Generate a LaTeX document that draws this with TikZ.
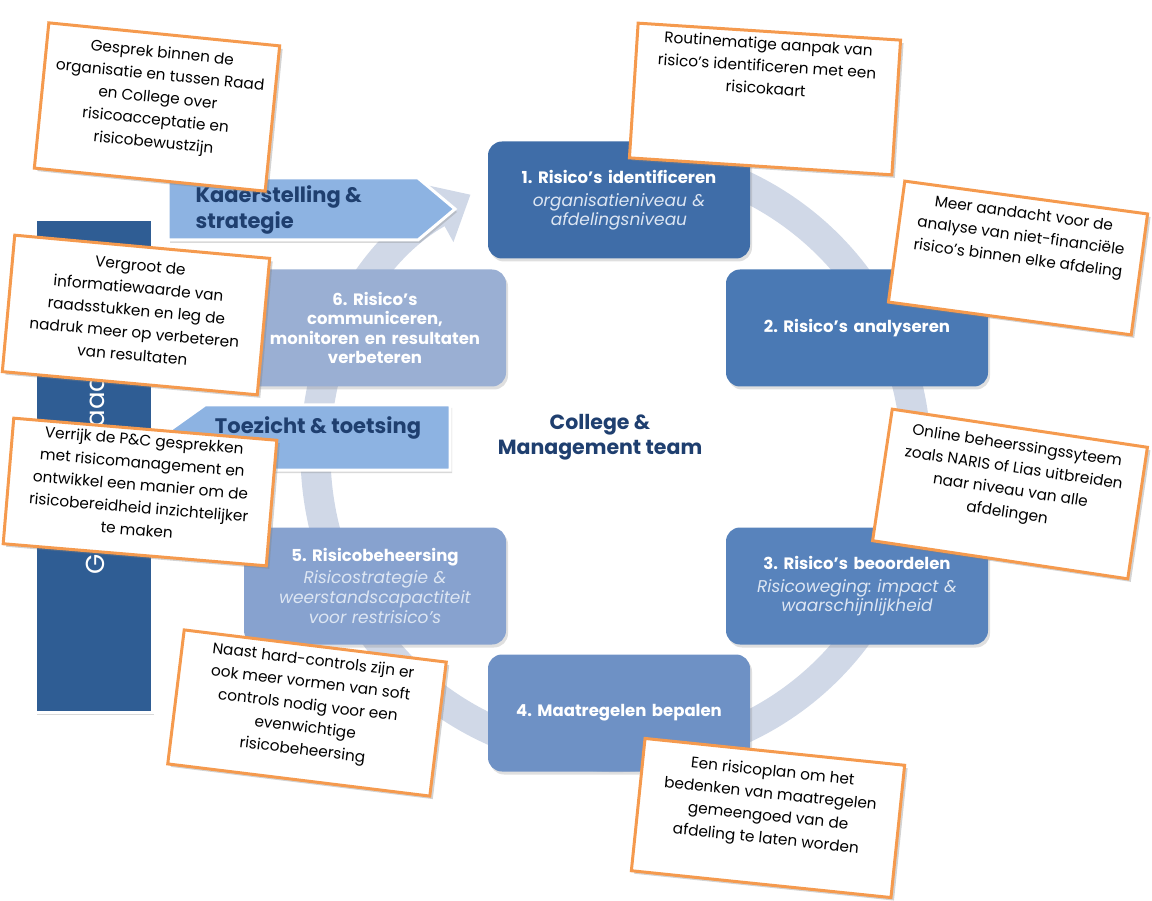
\documentclass[tikz,border=0pt]{standalone}
\usepackage{fontspec}
\setmainfont{Poppins}
\usetikzlibrary{arrows.meta,shadows}
\frenchspacing

\definecolor{ringgray}{HTML}{D0D8E7}
\definecolor{phaseA}{HTML}{3F6DA8}
\definecolor{phaseB}{HTML}{4A79B4}
\definecolor{phaseC}{HTML}{5883BC}
\definecolor{phaseD}{HTML}{6E91C5}
\definecolor{phaseE}{HTML}{87A2CF}
\definecolor{phaseF}{HTML}{9AAFD3}
\definecolor{barblue}{HTML}{2F5D94}
\definecolor{bannerblue}{HTML}{8DB3E2}
\definecolor{navy}{HTML}{1F3F6F}
\definecolor{subwhite}{HTML}{DDE6F3}
\definecolor{noteorange}{HTML}{F59A4E}

% note text: width, height, top padding, lines
\newcommand{\notetext}[4]{\parbox[c][#2][t]{#1}{\centering\vspace*{#3}#4}}
\newcommand{\subline}[1]{{\mdseries\itshape\fontsize{17}{20}\selectfont\color{subwhite}#1}}

\tikzset{
  phase/.style={rounded corners=14pt, minimum width=262pt, minimum height=117pt,
    text width=252pt, align=center, text=white, inner sep=0pt,
    font=\fontsize{16.5}{19.5}\selectfont\bfseries,
    drop shadow={opacity=0.25, shadow xshift=2pt, shadow yshift=-3pt}},
  note/.style={draw=noteorange, line width=3pt, fill=white, inner sep=0pt,
    font=\fontsize{15.3}{22.5}\selectfont,
    drop shadow={opacity=0.35, shadow xshift=3pt, shadow yshift=-3pt}},
  banner/.style={fill=bannerblue, draw=white, line width=3pt,
    drop shadow={opacity=0.3, shadow xshift=2pt, shadow yshift=-3pt}},
  bannertext/.style={text=navy, font=\fontsize{21}{26}\selectfont\bfseries, align=left}
}

\begin{document}
\begin{tikzpicture}[x=1pt,y=-1pt]
\useasboundingbox (0,0) rectangle (1152,901);

% the cycle ring
\draw[ringgray, line width=30pt, -{Triangle[width=64pt,length=38pt]}]
  (616,457) ++(-110:300) arc[start angle=-110, end angle=241, radius=300];

% the six steps
\node[phase, fill=phaseA] (identify) at (619,200)
  {1. Risico's identificeren\\[3pt]\subline{organisatieniveau \&\\afdelingsniveau}};
\node[phase, fill=phaseB] (analyse) at (857,328) {2. Risico's analyseren};
\node[phase, fill=phaseC] (assess) at (857,586)
  {3. Risico's beoordelen\\[3pt]\subline{Risicoweging: impact \&\\waarschijnlijkheid}};
\node[phase, fill=phaseD] (measures) at (619,713) {4. Maatregelen bepalen};
\node[phase, fill=phaseE] (control) at (375,586)
  {5. Risicobeheersing\\[2pt]\subline{Risicostrategie \&\\weerstandscapactiteit\\voor restrisico's}};
\node[phase, fill=phaseF] (monitor) at (375,328)
  {6. Risico's\\communiceren,\\monitoren en resultaten\\verbeteren};

\node[text=navy, font=\fontsize{20.5}{25}\selectfont\bfseries, align=center] (board)
  at (600,437) {College \&\\Management team};

% side banners and council bar
\draw[banner] (168,178) -- (418,178) -- (455,209) -- (418,240) -- (168,240) -- cycle;
\node[bannertext, anchor=west] (framework) at (192,210) {Kaderstelling \&\\strategie};
\draw[banner] (160,437) -- (205,405) -- (450,405) -- (450,470) -- (205,470) -- cycle;
\node[bannertext] (oversight) at (318,428) {Toezicht \& toetsing};
\draw[banner, fill=barblue] (35,220) rectangle (152,712);
\node[rotate=90, anchor=west, text=white, font=\fontsize{26}{28}\selectfont] (council)
  at (95,578) {Gemeenteraad};

% orange notes
\node[note, rotate=-5.7] (talk) at (157,107)
  {\notetext{232pt}{146pt}{12pt}{Gesprek binnen de\\organisatie en tussen Raad\\en College over\\risicoacceptatie en\\risicobewustzijn}};
\node[note, rotate=-3.7] (routine) at (765,99)
  {\notetext{263pt}{135pt}{6pt}{Routinematige aanpak van\\risico's identificeren met een\\risicokaart}};
\node[note, rotate=-7.7] (attention) at (1018,258)
  {\notetext{245pt}{122pt}{10pt}{Meer aandacht voor de\\analyse van niet-financiële\\risico's binnen elke afdeling}};
\node[note, rotate=-8.5] (online) at (1010,494)
  {\notetext{258pt}{133pt}{11pt}{Online beheerssingssyteem\\zoals NARIS of Lias uitbreiden\\naar niveau van alle\\afdelingen}};
\node[note, rotate=-5.2] (enlarge) at (136,315)
  {\notetext{256pt}{137pt}{13pt}{Vergroot de\\informatiewaarde van\\raadsstukken en leg de\\nadruk meer op verbeteren\\van resultaten}};
\node[note, rotate=-4.8] (enrich) at (140,492)
  {\notetext{264pt}{126pt}{5pt}{Verrijk de P\&C gesprekken\\met risicomanagement en\\ontwikkel een manier om de\\risicobereidheid inzichtelijker\\te maken}};
\node[note, rotate=-7] (soft) at (307,713)
  {\notetext{264pt}{135pt}{8pt}{Naast hard-controls zijn er\\ook meer vormen van soft\\controls nodig voor een\\evenwichtige\\risicobeheersing}};
\node[note, rotate=-5.9] (plan) at (768,818)
  {\notetext{261pt}{133pt}{13pt}{Een risicoplan om het\\bedenken van maatregelen\\gemeengoed van de\\afdeling te laten worden}};
\end{tikzpicture}
\end{document}
